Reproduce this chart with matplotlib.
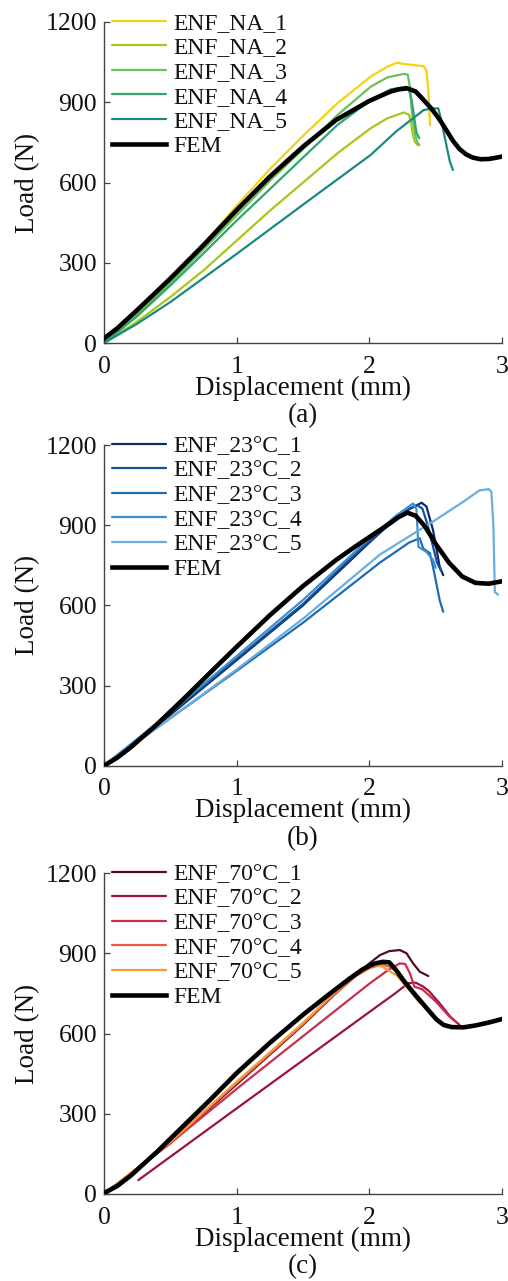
import matplotlib
matplotlib.use("Agg")
import matplotlib.pyplot as plt

plt.rcParams['font.family'] = ['Liberation Serif', 'DejaVu Serif']

# ---------------- Panel (a): ENF_NA ----------------
na_labels = ["ENF_NA_1", "ENF_NA_2", "ENF_NA_3", "ENF_NA_4", "ENF_NA_5"]
na_colors = ["#f7d20f", "#a7c71b", "#6cbf5a", "#2ea86f", "#188a83"]

na1_x = [0, 0.25, 0.5, 0.75, 1.005, 1.256, 1.508, 1.759, 2.01, 2.136, 2.211, 2.25, 2.286, 2.35, 2.41, 2.43, 2.444, 2.457]
na1_y = [0, 110, 236, 370, 516, 653, 778, 896, 996, 1033, 1048, 1044, 1042, 1038, 1035, 1018, 950, 815]
na2_x = [0, 0.25, 0.503, 0.754, 1.005, 1.256, 1.508, 1.759, 2.01, 2.136, 2.26, 2.3, 2.315, 2.33, 2.343, 2.36, 2.376]
na2_y = [0, 80, 173, 273, 385, 497, 603, 709, 803, 840, 862, 853, 820, 775, 752, 742, 740]
na3_x = [0, 0.25, 0.5, 0.75, 1.005, 1.256, 1.508, 1.759, 2.01, 2.136, 2.26, 2.29, 2.305, 2.318, 2.33, 2.345, 2.36, 2.376]
na3_y = [0, 105, 225, 350, 480, 609, 728, 852, 958, 993, 1006, 1003, 960, 880, 827, 780, 752, 740]
na4_x = [0, 0.25, 0.5, 0.75, 1.005, 1.256, 1.508, 1.759, 2.01, 2.16, 2.274, 2.3, 2.32, 2.343, 2.356, 2.376]
na4_y = [0, 100, 215, 335, 460, 578, 697, 815, 908, 948, 958, 945, 905, 827, 785, 766]
na5_x = [0, 0.25, 0.503, 1.005, 1.508, 2.01, 2.2, 2.41, 2.48, 2.52, 2.545, 2.57, 2.607, 2.63]
na5_y = [0, 72, 154, 335, 520, 703, 790, 871, 877, 877, 827, 765, 678, 647]

fem_a_x = [0, 0.1, 0.25, 0.5, 0.75, 1.0, 1.25, 1.5, 1.75, 2.0, 2.1, 2.16, 2.22, 2.286, 2.35,
           2.41, 2.47, 2.53, 2.58, 2.63, 2.68, 2.73, 2.78, 2.84, 2.9, 2.95, 3.0]
fem_a_y = [17, 55, 123, 241, 366, 497, 622, 734, 834, 905, 927, 940, 948, 952, 940,
           908, 875, 835, 796, 756, 725, 705, 693, 687, 688, 692, 697]

# ---------------- Panel (b): ENF_23°C ----------------
c23_labels = ["ENF_23°C_1", "ENF_23°C_2", "ENF_23°C_3", "ENF_23°C_4", "ENF_23°C_5"]
c23_colors = ["#0b2a6b", "#14509c", "#1f6bb5", "#3b8fd0", "#6aaee0"]

c23_1_x = [0, 0.5, 1.0, 1.5, 1.83, 2.0, 2.2, 2.3, 2.394, 2.43, 2.48, 2.51, 2.53, 2.557]
c23_1_y = [0, 190, 395, 600, 755, 835, 925, 960, 984, 970, 882, 800, 745, 713]
c23_2_x = [0, 0.5, 1.0, 1.5, 1.83, 2.0, 2.2, 2.3, 2.36, 2.40, 2.44, 2.48, 2.51, 2.54]
c23_2_y = [0, 195, 400, 605, 762, 840, 925, 960, 975, 962, 900, 820, 760, 730]
c23_3_x = [0, 0.5, 1.0, 1.5, 2.08, 2.3, 2.38, 2.406, 2.457, 2.49, 2.53, 2.557]
c23_3_y = [0, 178, 355, 535, 760, 835, 851, 813, 795, 720, 620, 576]
c23_4_x = [0, 0.5, 1.0, 1.5, 1.83, 2.0, 2.2, 2.33, 2.355, 2.37, 2.43, 2.48, 2.50]
c23_4_y = [0, 200, 410, 620, 772, 850, 935, 981, 960, 819, 800, 770, 740]
c23_5_x = [0, 0.5, 1.0, 1.5, 2.08, 2.5, 2.7, 2.83, 2.9, 2.92, 2.935, 2.946, 2.97]
c23_5_y = [0, 178, 360, 550, 790, 920, 985, 1030, 1035, 1025, 900, 650, 640]

fem_b_x = [0, 0.1, 0.2, 0.4, 0.6, 0.8, 1.0, 1.25, 1.5, 1.75, 1.9, 2.05, 2.15, 2.22, 2.286, 2.35,
           2.42, 2.5, 2.6, 2.7, 2.8, 2.9, 3.0]
fem_b_y = [0, 30, 68, 155, 250, 348, 445, 563, 672, 770, 822, 872, 905, 930, 947, 935,
           895, 830, 760, 708, 684, 681, 690]

# ---------------- Panel (c): ENF_70°C ----------------
c70_labels = ["ENF_70°C_1", "ENF_70°C_2", "ENF_70°C_3", "ENF_70°C_4", "ENF_70°C_5"]
c70_colors = ["#4c0f2a", "#9a1443", "#cc2f4c", "#ef5a3c", "#f89a3e"]

c70_1_x = [0, 0.5, 1.0, 1.5, 1.7, 1.9, 2.0, 2.08, 2.15, 2.23, 2.28, 2.33, 2.38, 2.444]
c70_1_y = [0, 190, 410, 632, 728, 820, 862, 893, 908, 912, 900, 862, 831, 815]
c70_2_x = [0.259, 1.0, 1.5, 2.005, 2.2, 2.293, 2.35, 2.407, 2.45, 2.53, 2.61, 2.68]
c70_2_y = [52, 320, 500, 682, 752, 788, 790, 775, 758, 713, 663, 632]
c70_3_x = [0, 0.5, 1.0, 1.5, 2.005, 2.15, 2.23, 2.27, 2.306, 2.34, 2.4, 2.5, 2.6, 2.66]
c70_3_y = [0, 190, 393, 590, 788, 840, 862, 860, 825, 775, 765, 720, 665, 640]
c70_4_x = [0, 0.5, 1.0, 1.326, 1.5, 1.7, 1.9, 2.005, 2.1, 2.15, 2.23, 2.306, 2.35]
c70_4_y = [0, 192, 415, 558, 635, 730, 815, 845, 858, 850, 825, 770, 740]
c70_5_x = [0, 0.5, 1.0, 1.326, 1.5, 1.7, 1.85, 1.95, 2.03, 2.1, 2.21, 2.306, 2.38]
c70_5_y = [0, 195, 420, 563, 640, 735, 800, 835, 855, 850, 815, 760, 713]

fem_c_x = [0, 0.1, 0.2, 0.4, 0.6, 0.8, 1.0, 1.25, 1.5, 1.7, 1.85, 1.95, 2.03, 2.1, 2.15, 2.2,
           2.255, 2.32, 2.38, 2.44, 2.507, 2.56, 2.62, 2.71, 2.8, 2.9, 3.0]
fem_c_y = [3, 30, 68, 158, 255, 352, 452, 565, 670, 748, 805, 840, 860, 868, 866, 838,
           800, 760, 725, 690, 652, 632, 624, 623, 630, 641, 654]

x_ticks = [0, 1, 2, 3]
y_ticks = [0, 300, 600, 900, 1200]
panel_letters = ["(a)", "(b)", "(c)"]

# ---------------- Drawing ----------------
W, H = 508, 1281
fig = plt.figure(figsize=(W / 100, H / 100), dpi=100)

panels = [
    (22, 343, list(zip([na1_x, na2_x, na3_x, na4_x, na5_x], [na1_y, na2_y, na3_y, na4_y, na5_y])),
     na_colors, na_labels, (fem_a_x, fem_a_y)),
    (445, 765.7, list(zip([c23_1_x, c23_2_x, c23_3_x, c23_4_x, c23_5_x],
                          [c23_1_y, c23_2_y, c23_3_y, c23_4_y, c23_5_y])),
     c23_colors, c23_labels, (fem_b_x, fem_b_y)),
    (873, 1194, list(zip([c70_1_x, c70_2_x, c70_3_x, c70_4_x, c70_5_x],
                         [c70_1_y, c70_2_y, c70_3_y, c70_4_y, c70_5_y])),
     c70_colors, c70_labels, (fem_c_x, fem_c_y)),
]

left_px, right_px = 104, 502
for i, (top_px, bot_px, series, colors, labels, fem) in enumerate(panels):
    ax = fig.add_axes([left_px / W, 1 - bot_px / H, (right_px - left_px) / W, (bot_px - top_px) / H])
    for (xs, ys), col, lab in zip(series, colors, labels):
        ax.plot(xs, ys, color=col, lw=1.6, label=lab, solid_capstyle='round',
                solid_joinstyle='round')
    ax.plot(fem[0], fem[1], color="black", lw=3.3, label="FEM", zorder=5,
            solid_joinstyle='round')

    ax.set_xlim(0, 3)
    ax.set_ylim(0, 1200)
    ax.set_xticks(x_ticks)
    ax.set_yticks(y_ticks)
    ax.tick_params(direction='in', length=4.5, width=0.9, color="#444444",
                   labelsize=18.5, labelcolor="#111111")
    ax.tick_params(axis='y', pad=5)
    ax.tick_params(axis='x', pad=9)
    for s in ["top", "right"]:
        ax.spines[s].set_visible(False)
    for s in ["left", "bottom"]:
        ax.spines[s].set_color("#444444")
        ax.spines[s].set_linewidth(1.0)

    ax.text(0.5, -0.14, "Displacement (mm)", transform=ax.transAxes, ha='center', va='center',
            fontsize=19.5, color="#111111")
    ax.text(0.5, -0.226, panel_letters[i], transform=ax.transAxes, ha='center', va='center',
            fontsize=19.5, color="#111111")
    ax.text(-0.193, 0.5, "Load (N)", transform=ax.transAxes, ha='center', va='center',
            rotation=90, fontsize=19.5, color="#111111")

    leg = ax.legend(loc='upper left', bbox_to_anchor=(0.02, 1.03), frameon=False,
                    fontsize=17, handlelength=2.3, handletextpad=0.3, labelspacing=0.13,
                    borderpad=0, borderaxespad=0)
    for t in leg.get_texts():
        t.set_color("#111111")

fig.savefig("out.png", dpi=100)
